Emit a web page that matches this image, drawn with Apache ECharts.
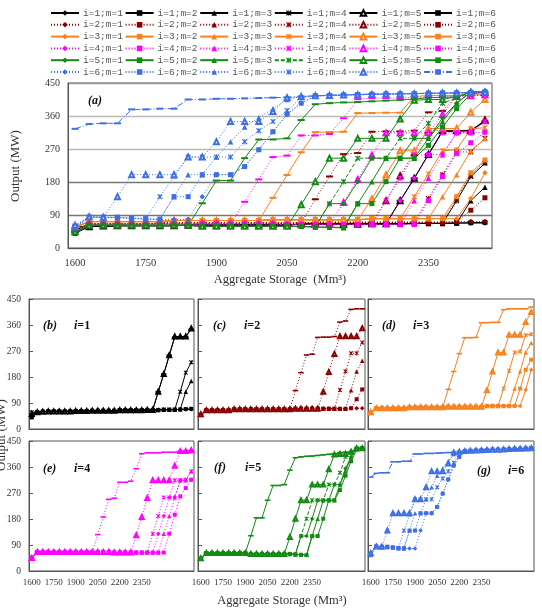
<!DOCTYPE html>
<html>
<head>
<meta charset="utf-8">
<script src="https://cdn.jsdelivr.net/npm/echarts@6/dist/echarts.min.js"></script>
<style>
  html, body { margin: 0; padding: 0; background: #fff; }
  #chart { width: 542px; height: 611px; }
</style>
</head>
<body>
<div id="chart"></div>
<script>
// aggregate storage (Mm3), one category per point
const storage = ['1600','1630','1660','1690','1720','1750','1780','1810','1840','1870',
  '1900','1930','1960','1990','2020','2050','2080','2110','2140','2170',
  '2200','2230','2260','2290','2320','2350','2380','2410','2440','2470'];
// labels printed under the small panels
const subTickLabels = ['1600', '1750', '1900', '2050', '2200', '2350'];

// output (MW), i = 1
const i1m1 = [45,58,60,61,61,61,61,61,62,62,62,63,63,63,63,63,65,65,65,65,65,66,66,66,67,67,67,68,68,68];
const i1m2 = [40,58,60,61,61,61,61,61,62,62,62,63,63,63,63,63,65,65,65,65,65,66,66,66,67,67,67,68,69,70];
const i1m3 = [47,58,60,61,61,61,61,61,62,62,62,63,63,63,63,63,65,65,65,65,65,66,66,66,67,67,67,68,129,166];
const i1m4 = [58,58,60,61,61,61,61,61,62,62,62,63,63,63,63,63,65,65,65,65,65,66,66,66,67,67,67,129,195,231];
const i1m5 = [52,58,60,61,61,61,61,61,62,62,62,63,63,63,63,63,65,65,65,65,65,66,66,129,190,255,320,320,320,348];
const i1m6 = [50,58,60,61,61,61,61,61,62,62,62,63,63,63,63,63,65,65,65,65,65,66,66,129,190,255,318,318,320,345];
// i = 2
const i2m1 = [49,65,65,65,65,65,68,68,68,68,68,68,68,68,68,68,68,70,70,70,70,70,70,70,70,70,70,72,72,72];
const i2m2 = [48,65,65,65,65,65,68,68,68,68,68,68,68,68,68,68,68,70,70,70,70,70,70,70,70,70,70,72,103,137];
const i2m3 = [50,65,65,65,65,65,68,68,68,68,68,68,68,68,68,68,68,70,70,70,70,70,70,70,70,70,70,134,199,236];
const i2m4 = [50,65,65,65,65,65,68,68,68,68,68,68,68,68,68,68,68,70,70,70,70,70,70,70,70,135,200,262,262,299];
const i2m5 = [51,65,65,65,65,65,68,68,68,68,68,68,68,68,68,68,68,70,70,70,70,70,129,197,260,321,321,321,321,349];
const i2m6 = [52,65,65,65,65,65,68,68,68,68,68,68,68,68,68,68,68,133,195,256,259,317,318,318,320,370,374,414,416,416];
// i = 3
const i3m1 = [56,72,72,72,72,72,72,75,75,75,75,75,75,75,77,77,77,77,77,77,77,80,80,80,80,80,80,80,135,205];
const i3m2 = [55,72,72,72,72,72,72,75,75,75,75,75,75,75,77,77,77,77,77,77,77,80,80,80,80,80,80,140,205,240];
const i3m3 = [57,72,72,72,72,72,72,75,75,75,75,75,75,75,77,77,77,77,77,77,77,80,80,80,80,80,140,200,265,298];
const i3m4 = [56,72,72,72,72,72,72,75,75,75,75,75,75,75,77,77,77,77,77,77,77,80,80,80,140,202,265,268,325,328];
const i3m5 = [58,72,72,72,72,72,72,75,75,75,75,75,75,75,77,77,77,77,77,77,77,134,199,265,265,326,326,326,370,405];
const i3m6 = [57,72,72,72,72,72,72,75,75,75,75,75,75,75,137,199,261,316,316,317,368,368,369,369,413,416,416,416,416,422];
// i = 4
const i4m1 = [45,66,66,66,66,66,66,66,66,66,66,66,66,66,66,64,64,64,64,64,64,64,64,129,190,254,256,314,314,316];
const i4m2 = [46,66,66,66,66,66,66,66,66,66,66,66,66,66,66,64,64,64,64,64,64,64,64,64,64,129,195,258,287,316];
const i4m3 = [44,66,66,66,66,66,66,66,66,66,66,66,66,66,66,64,64,64,64,64,64,64,64,64,129,190,254,314,314,345];
const i4m4 = [47,66,66,66,66,66,66,66,66,66,66,66,66,66,66,64,64,64,64,64,64,64,129,190,254,254,314,314,316,345];
const i4m5 = [45,66,66,66,66,66,66,66,66,66,66,66,66,66,66,64,64,64,64,124,187,253,314,314,314,314,364,415,415,418];
const i4m6 = [46,66,66,66,66,66,66,66,66,66,66,66,126,187,248,252,307,307,311,354,406,409,409,409,411,411,411,415,415,418];
// i = 5
const i5m1 = [43,62,62,62,62,62,62,62,62,59,59,59,59,59,59,59,59,58,121,121,181,245,245,245,299,299,355,395,425,425];
const i5m2 = [42,62,62,62,62,62,62,62,62,59,59,59,59,59,59,59,59,57,56,55,121,121,181,245,245,280,330,380,420,425];
const i5m3 = [44,62,62,62,62,62,62,62,62,59,59,59,59,59,59,59,59,57,57,56,121,181,245,245,245,299,345,395,425,425];
const i5m4 = [43,62,62,62,62,62,62,62,62,59,59,59,59,59,59,59,59,58,121,181,245,245,245,299,299,340,395,410,425,425];
const i5m5 = [44,62,62,62,62,62,62,62,62,59,59,59,59,59,59,59,118,181,245,245,299,299,299,352,403,405,405,413,425,425];
const i5m6 = [45,62,62,62,62,62,62,62,62,122,184,184,245,296,296,299,349,392,395,397,398,400,402,404,406,410,411,412,425,425];
// i = 6
const i6m1 = [58,84,83,83,81,79,78,78,78,140,200,200,222,268,317,365,395,415,416,417,418,419,420,420,421,422,422,423,424,425];
const i6m2 = [60,85,84,84,82,80,79,140,140,200,200,200,222,268,317,365,395,415,416,417,418,419,420,420,421,422,423,423,424,425];
const i6m3 = [55,84,83,83,81,79,78,140,200,200,248,290,330,355,380,405,413,415,416,417,418,419,420,420,421,422,422,423,424,425];
const i6m4 = [56,84,83,83,81,79,140,195,248,248,248,248,290,320,345,375,410,415,416,417,418,419,420,420,421,422,422,423,424,425];
const i6m5 = [62,85,84,140,200,200,200,200,248,248,290,345,345,345,372,410,413,415,416,417,418,419,420,420,421,422,423,423,424,425];
const i6m6 = [325,338,340,340,378,378,380,380,405,405,407,407,408,409,410,411,413,415,417,418,419,420,420,421,421,422,422,423,424,425];

const outputs = [
  [i1m1, i1m2, i1m3, i1m4, i1m5, i1m6],
  [i2m1, i2m2, i2m3, i2m4, i2m5, i2m6],
  [i3m1, i3m2, i3m3, i3m4, i3m5, i3m6],
  [i4m1, i4m2, i4m3, i4m4, i4m5, i4m6],
  [i5m1, i5m2, i5m3, i5m4, i5m5, i5m6],
  [i6m1, i6m2, i6m3, i6m4, i6m5, i6m6]
];

const colors = ['#000000', '#8B0000', '#F7821E', '#FF00FF', '#138A13', '#3D6FE6'];
const starPath = 'path://M0,1.5L1.5,0L5,3.5L8.5,0L10,1.5L6.5,5L10,8.5L8.5,10L5,6.5L1.5,10L0,8.5L3.5,5Z M4.3,0L5.7,0L5.7,10L4.3,10Z';
const dashPath = 'path://M0,0L10,0L10,2.5L0,2.5Z';
const markers = ['diamond', 'rect', 'triangle', starPath, 'emptyTriangle', dashPath];
const serif = '"Liberation Serif", "DejaVu Serif", serif';

function lineType(i, m) {
  if (i === 4 && m === 3) return [4, 2];
  if (i === 5 && m === 5) return [6, 2, 1, 2];
  if (i === 1 || i === 3 || i === 5) return [1, 2];
  return 'solid';
}
function symSize(m, big) {
  if (m === 5) return big ? [7, 2] : [5.5, 1.6];
  if (m === 4) return big ? 5 : 4;
  if (m === 1) return big ? 5 : 4;
  return big ? 5.5 : 4.5;
}

const chart = echarts.init(document.getElementById('chart'), null, { renderer: 'canvas' });

const grids = [
  { left: 68, top: 83, width: 424, height: 165 },
  { left: 29, top: 299, width: 165, height: 130 },
  { left: 198, top: 299, width: 167, height: 130 },
  { left: 368, top: 299, width: 166, height: 130 },
  { left: 29, top: 441, width: 165, height: 130 },
  { left: 198, top: 441, width: 167, height: 130 },
  { left: 368, top: 441, width: 166, height: 130 }
].map(g => Object.assign(g, { show: true, borderColor: '#555', borderWidth: 1 }));

const xAxes = grids.map((g, gi) => {
  const main = gi === 0;
  const showLab = main || gi >= 4;
  return {
    type: 'category', gridIndex: gi, data: storage, boundaryGap: true,
    axisLine: { lineStyle: { color: '#555' } },
    axisTick: { inside: true, interval: 1, length: 4, lineStyle: { color: '#555' } },
    axisLabel: {
      show: showLab,
      color: '#333', fontFamily: serif, fontSize: main ? 10.5 : 9,
      margin: main ? 10 : 7,
      interval: main ? 4 : function (idx) { return idx % 4 === 0 && idx / 4 < subTickLabels.length; },
      formatter: main ? '{value}' : function (v, idx) { return subTickLabels[idx / 4] || ''; }
    },
    splitLine: { show: false }
  };
});

const yAxes = grids.map((g, gi) => {
  const main = gi === 0;
  return {
    type: 'value', gridIndex: gi, min: 0, max: 450, interval: 90,
    axisLine: { show: true, lineStyle: { color: '#555' } },
    axisTick: { show: !main, inside: true, length: 4, lineStyle: { color: '#555' } },
    axisLabel: { show: gi === 0 || gi === 1 || gi === 4, color: '#333', fontFamily: serif, fontSize: main ? 10 : 9.5, margin: 8 },
    splitLine: { show: main, lineStyle: { color: ['#999', '#777', '#777', '#bbb', '#bbb', '#999'], width: 1.4 } }
  };
});

const series = [];
// panel (a): every series
outputs.forEach((group, i) => {
  group.forEach((vals, m) => {
    series.push({
      name: 'i=' + (i + 1) + ';m=' + (m + 1),
      type: 'line', xAxisIndex: 0, yAxisIndex: 0, data: vals,
      symbol: markers[m], symbolSize: symSize(m, true), showAllSymbol: true,
      lineStyle: { color: colors[i], width: 1, type: lineType(i, m) },
      itemStyle: { color: colors[i], borderColor: colors[i], borderWidth: m === 4 ? 0.8 : 0 }
    });
  });
});
// panels (b)-(g): one i per panel
outputs.forEach((group, i) => {
  group.forEach((vals, m) => {
    series.push({
      name: 'sub i=' + (i + 1) + ';m=' + (m + 1),
      type: 'line', xAxisIndex: i + 1, yAxisIndex: i + 1, data: vals,
      symbol: markers[m], symbolSize: symSize(m, false), showAllSymbol: true,
      lineStyle: { color: colors[i], width: 1, type: lineType(i, m) },
      itemStyle: { color: colors[i], borderColor: colors[i], borderWidth: m === 4 ? 0.8 : 0 }
    });
  });
});

const legends = outputs.map((group, i) => ({
  data: group.map((v, m) => 'i=' + (i + 1) + ';m=' + (m + 1)),
  left: 50, top: 8 + i * 11.8, orient: 'horizontal',
  itemWidth: 28, itemHeight: 7, itemGap: 1.7, padding: 0,
  selectedMode: false,
  textStyle: { fontFamily: '"Liberation Mono", "DejaVu Sans Mono", monospace', fontSize: 9.5, color: '#555', padding: [0, 0, 0, -1] }
}));

function panelLabel(x, y, tag, iv) {
  return [
    { type: 'text', x: x, y: y, style: { text: '(' + tag + ')', font: 'italic bold 12px ' + serif, fill: '#111', verticalAlign: 'middle' } },
    { type: 'text', x: x + 31, y: y, style: { text: '{a|i}{b|=' + iv + '}', verticalAlign: 'middle',
      rich: { a: { fontFamily: serif, fontStyle: 'italic', fontWeight: 'bold', fontSize: 12, fill: '#111' },
              b: { fontFamily: serif, fontWeight: 'bold', fontSize: 12, fill: '#111' } } } }
  ];
}

const graphic = [
  { type: 'text', x: 88, y: 101, style: { text: '(a)', font: 'italic bold 12px ' + serif, fill: '#111', verticalAlign: 'middle' } },
  { type: 'text', x: 16, y: 166, rotation: Math.PI / 2, style: { text: 'Output (MW)', font: '13px ' + serif, fill: '#333', align: 'center', verticalAlign: 'middle' } },
  { type: 'text', x: 280, y: 280, style: { text: 'Aggregate Storage  (Mm³)', font: '12.5px ' + serif, fill: '#333', align: 'center', verticalAlign: 'middle' } },
  { type: 'text', x: 2, y: 435, rotation: Math.PI / 2, style: { text: 'Output (MW)', font: '13px ' + serif, fill: '#333', align: 'center', verticalAlign: 'middle' } },
  { type: 'text', x: 282, y: 601, style: { text: 'Aggregate Storage (Mm³)', font: '12.5px ' + serif, fill: '#333', align: 'center', verticalAlign: 'middle' } }
].concat(
  panelLabel(43, 326, 'b', 1),
  panelLabel(213, 326, 'c', 2),
  panelLabel(382, 326, 'd', 3),
  panelLabel(43, 469, 'e', 4),
  panelLabel(214, 468, 'f', 5),
  panelLabel(477, 471, 'g', 6)
);

chart.setOption({
  animation: false,
  backgroundColor: '#fff',
  legend: legends,
  grid: grids,
  xAxis: xAxes,
  yAxis: yAxes,
  series: series,
  graphic: graphic
});
</script>
</body>
</html>
